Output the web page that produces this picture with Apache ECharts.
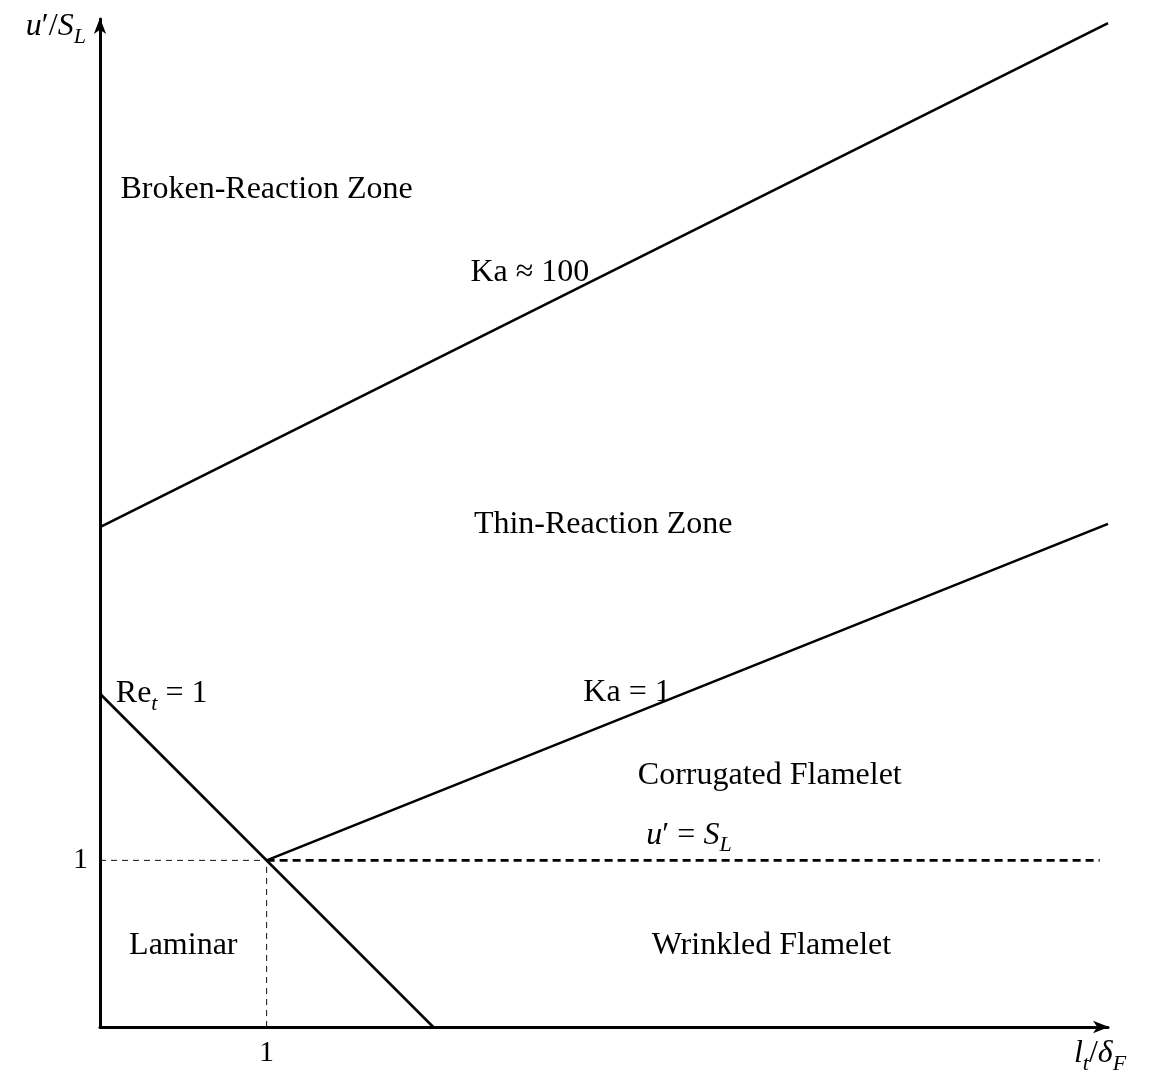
<!DOCTYPE html>
<html><head><meta charset="utf-8">
<script src="https://cdn.jsdelivr.net/npm/echarts@6/dist/echarts.min.js"></script>
<style>html,body{margin:0;padding:0;background:#fff}#c{width:1150px;height:1076px}</style>
</head><body><div id="c"></div>
<script>
// ---- data ----
const axisMax = 6.05;
const tickValues = [1];
const tickLabels = ['1'];
const reLine = [[0, 2], [2, 0]];
const ka1Line = [[1, 1], [6.05, 3.02]];
const ka100Line = [[0, 3], [6.05, 6.025]];
const uslLine = [[1, 1], [6.0, 1]];
const guideH = [[0, 1], [1, 1]];
const guideV = [[1, 0], [1, 1]];
const labelNames = ['Broken-Reaction Zone', 'Ka ≈ 100', 'Thin-Reaction Zone', '{r|Re}{s|t}{r| = 1}', 'Ka = 1', 'Corrugated Flamelet', '{i|u}{r|′ = }{i|S}{s|L}', 'Laminar', 'Wrinkled Flamelet'];
const labelX = [1.0, 2.58, 3.02, 0.37, 3.163, 4.02, 3.535, 0.50, 4.03];
const labelY = [5.024, 4.526, 3.013, 2.0, 2.005, 1.51, 1.15, 0.49, 0.49];
const xName = '{i|l}{s|t}{r|/}{i|δ}{s|F}';
const yName = '{i|u}{r|′/}{i|S}{s|L}';

// ---- styles ----
const FF = "'Liberation Serif','Times New Roman',serif";
const rich = {
  r: {fontFamily: FF, fontSize: 32, lineHeight: 42, color: '#000'},
  i: {fontFamily: FF, fontSize: 32, lineHeight: 42, color: '#000', fontStyle: 'italic'},
  s: {fontFamily: FF, fontSize: 22, lineHeight: 23, color: '#000', fontStyle: 'italic', verticalAlign: 'bottom'}
};
const arrow = 'path://M5,0 L10,13 L5,9.5 L0,13 Z';

function lineSeries(data, width, type, color) {
  return {
    type: 'line', data: data, symbol: 'none', silent: true, clip: false,
    lineStyle: {color: color || '#000', width: width, type: type || 'solid'},
    z: 3
  };
}

const chart = echarts.init(document.getElementById('c'), null, {renderer: 'canvas'});
const tickFmt = v => { const k = tickValues.indexOf(v); return k >= 0 ? tickLabels[k] : ''; };

chart.setOption({
  animation: false,
  backgroundColor: '#fff',
  grid: {left: 100, right: 42, top: 19, bottom: 49, containLabel: false},
  xAxis: {
    type: 'value', min: 0, max: axisMax, interval: 1,
    splitLine: {show: false}, axisTick: {show: false},
    axisLine: {lineStyle: {color: '#000', width: 3}, symbol: ['none', arrow], symbolSize: [14, 16], symbolOffset: [0, -7]},
    axisLabel: {formatter: tickFmt, fontFamily: FF, fontSize: 30, color: '#000', margin: 11, showMaxLabel: false},
    name: xName, nameLocation: 'end', nameGap: -8,
    nameTextStyle: {rich: rich, align: 'center', verticalAlign: 'top', padding: [6, 0, 0, 0]}
  },
  yAxis: {
    type: 'value', min: 0, max: axisMax, interval: 1,
    splitLine: {show: false}, axisTick: {show: false},
    axisLine: {lineStyle: {color: '#000', width: 3}, symbol: ['none', arrow], symbolSize: [14, 16], symbolOffset: [0, -7]},
    axisLabel: {formatter: tickFmt, fontFamily: FF, fontSize: 30, color: '#000', margin: 12, showMaxLabel: false},
    name: yName, nameLocation: 'end', nameGap: -8,
    nameTextStyle: {rich: rich, align: 'right', verticalAlign: 'middle', padding: [0, 14, 0, 0]}
  },
  series: [
    lineSeries(guideH, 1, [6, 5], '#111'),
    lineSeries(guideV, 1, [6, 5], '#111'),
    lineSeries(reLine, 2.6),
    lineSeries(ka1Line, 2.6),
    lineSeries(ka100Line, 2.6),
    lineSeries(uslLine, 2.6, [8, 5]),
    {
      type: 'scatter', symbolSize: 0, silent: true, z: 5,
      itemStyle: {opacity: 1},
      data: labelNames.map((n, k) => ({value: [labelX[k], labelY[k]], name: n})),
      label: {
        show: true, position: 'inside', color: '#000', opacity: 1,
        formatter: p => p.name.indexOf('{') === 0 ? p.name : '{r|' + p.name + '}',
        rich: rich
      }
    }
  ]
});
</script>
</body></html>
